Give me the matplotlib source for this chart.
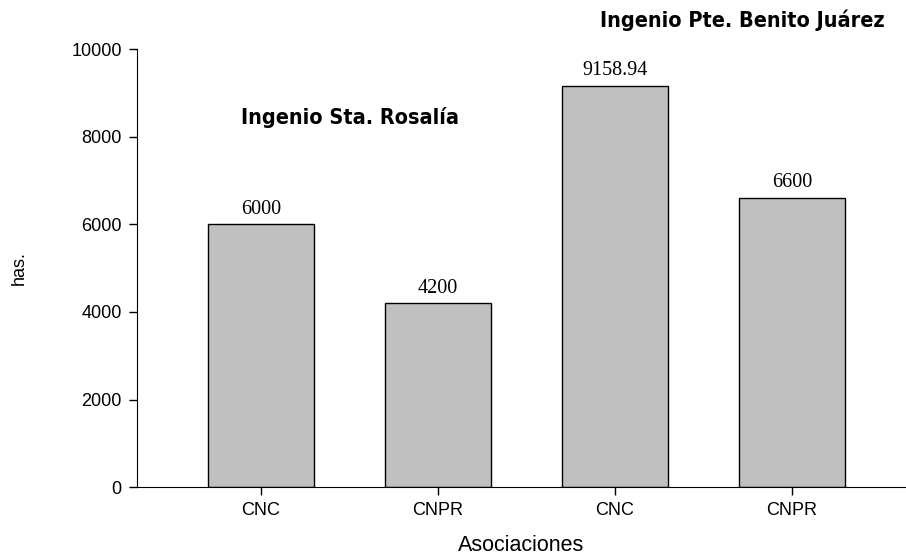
import matplotlib
matplotlib.use('Agg')
import matplotlib.pyplot as plt
from matplotlib import font_manager

categories = ['CNC', 'CNPR', 'CNC', 'CNPR']
values = [6000, 4200, 9158.94, 6600]
value_labels = ['6000', '4200', '9158.94', '6600']

# look for a condensed bold face for the two annotations
cond = None
for f in font_manager.fontManager.ttflist:
    low = f.fname.lower()
    if ('narrow' in low or 'condensed' in low) and 'bold' in low and 'oblique' not in low and 'italic' not in low:
        cond = f.fname
        break
if cond:
    ann_font = font_manager.FontProperties(fname=cond, size=15.5)
else:
    ann_font = font_manager.FontProperties(family='Liberation Sans', weight='bold', size=15)

fig = plt.figure(figsize=(9.06, 5.58), dpi=100)
ax = fig.add_axes([137 / 906, 0.127, 1 - 137 / 906, 0.785])

x = range(len(values))
ax.bar(x, values, width=0.6, color='#c0c0c0', edgecolor='black', linewidth=1.0)

for xi, v, lab in zip(x, values, value_labels):
    ax.annotate(lab, (xi, v), xytext=(0, 4), textcoords='offset points',
                ha='center', va='bottom', family='Liberation Serif', fontsize=14.5)

ax.set_xlim(-0.70, 3.644)
ax.set_ylim(0, 10000)
ax.set_yticks([0, 2000, 4000, 6000, 8000, 10000])
ax.set_xticks(list(x))
ax.set_xticklabels(categories, family='Liberation Sans', fontsize=13)
for lab in ax.get_yticklabels():
    lab.set_family('Liberation Sans')
    lab.set_fontsize(13)
ax.tick_params(direction='out', length=6, width=1, pad=5)

ax.spines['top'].set_visible(False)
ax.spines['right'].set_visible(False)

ax.set_xlabel('Asociaciones', family='Liberation Sans', fontsize=15.5, labelpad=11)
ax.set_ylabel('has.', family='Liberation Sans', fontsize=13, labelpad=31)

fig.text(350 / 906, 1 - 117 / 558, 'Ingenio Sta. Rosalía', ha='center', va='center',
         fontproperties=ann_font)
fig.text(742 / 906, 1 - 20 / 558, 'Ingenio Pte. Benito Juárez', ha='center', va='center',
         fontproperties=ann_font)

fig.savefig('out.png', dpi=100)
